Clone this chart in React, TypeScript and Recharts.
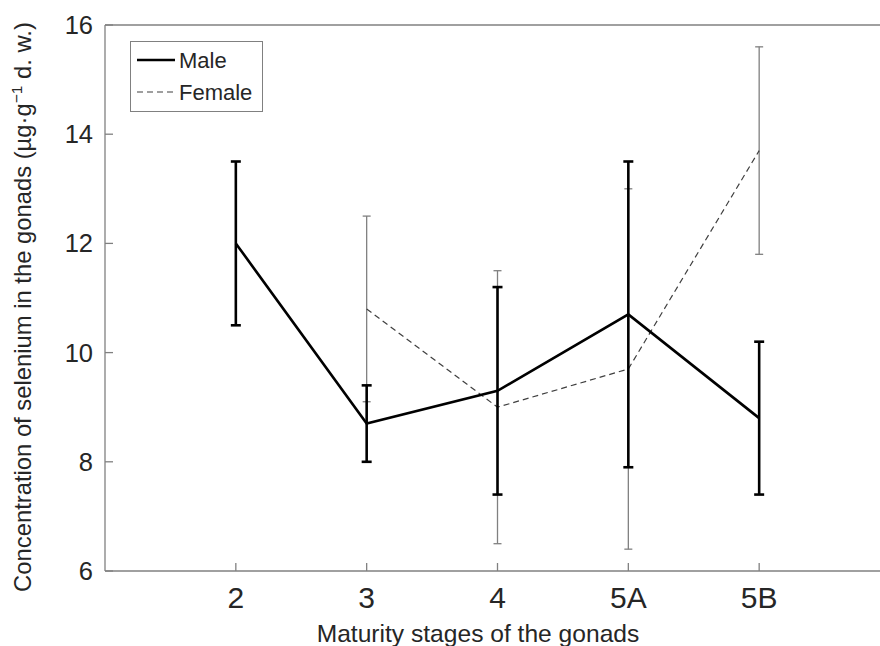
import {
  ComposedChart,
  Line,
  XAxis,
  YAxis,
  ErrorBar,
  Legend,
} from "recharts";

const stages = ["2", "3", "4", "5A", "5B"];
const stagePos = [2, 3, 4, 5, 6];

const maleMean = [12.0, 8.7, 9.3, 10.7, 8.8];
const maleLow = [10.5, 8.0, 7.4, 7.9, 7.4];
const maleHigh = [13.5, 9.4, 11.2, 13.5, 10.2];

// female has no stage 2 sample
const femalePos = [3, 4, 5, 6];
const femaleMean = [10.8, 9.0, 9.7, 13.7];
const femaleLow = [9.1, 6.5, 6.4, 11.8];
const femaleHigh = [12.5, 11.5, 13.0, 15.6];

const yTicks = [6, 8, 10, 12, 14, 16];

const FONT = '"Liberation Sans", Arial, sans-serif';
const AXIS = "#808080";
const INK = "#262626";

const maleData = stagePos.map((x, i) => ({
  x,
  v: maleMean[i],
  err: [maleMean[i] - maleLow[i], maleHigh[i] - maleMean[i]],
}));

const femaleData = femalePos.map((x, i) => ({
  x,
  v: femaleMean[i],
  err: [femaleMean[i] - femaleLow[i], femaleHigh[i] - femaleMean[i]],
}));

const stageLabel = (v: number) => {
  const i = stagePos.indexOf(v);
  return i >= 0 ? stages[i] : "";
};

function LegendBox() {
  return (
    <svg width={134} height={72} style={{ display: "block" }}>
      <rect x={0.5} y={0.5} width={132} height={70} fill="#fff" stroke={AXIS} strokeWidth={1} />
      <line x1={7} y1={19} x2={45} y2={19} stroke="#000" strokeWidth={2.5} />
      <text x={49} y={27} fontSize={22} fontFamily={FONT} fill={INK}>
        Male
      </text>
      <line x1={7} y1={51} x2={45} y2={51} stroke="#404040" strokeWidth={1.2} strokeDasharray="6 4" />
      <text x={49} y={59} fontSize={22} fontFamily={FONT} fill={INK}>
        Female
      </text>
    </svg>
  );
}

function YTitle() {
  return (
    <text
      transform="translate(31, 307) rotate(-90)"
      textAnchor="middle"
      fontSize={23.8}
      fontFamily={FONT}
      fill={INK}
    >
      <tspan>Concentration of selenium in the gonads (µg·g</tspan>
      <tspan dy={-9} fontSize={15.5}>−1</tspan>
      <tspan dy={9}> d. w.)</tspan>
    </text>
  );
}

function XTitle() {
  return (
    <text x={478} y={642} textAnchor="middle" fontSize={24.6} fontFamily={FONT} fill={INK}>
      Maturity stages of the gonads
    </text>
  );
}

export default function App() {
  return (
    <div style={{ position: "absolute", left: 0, top: 0, background: "#fff" }}>
      <ComposedChart
        width={880}
        height={646}
        margin={{ top: 24, right: -10, bottom: 45, left: 45 }}
      >
        <XAxis
          type="number"
          dataKey="x"
          domain={[1, 7]}
          ticks={stagePos}
          tickFormatter={stageLabel}
          allowDataOverflow
          height={30}
          stroke={AXIS}
          strokeWidth={1.3}
          tickSize={-8}
          tickMargin={24}
          tick={{ fill: INK, fontSize: 30, fontFamily: FONT }}
          label={{ content: () => <XTitle /> }}
        />
        <XAxis
          xAxisId="top"
          orientation="top"
          type="number"
          domain={[1, 7]}
          ticks={stagePos}
          allowDataOverflow
          height={1}
          stroke={AXIS}
          strokeWidth={1.3}
          tickSize={-8}
          tick={false}
        />
        <YAxis
          type="number"
          domain={[6, 16]}
          ticks={yTicks}
          allowDataOverflow
          width={60}
          stroke={AXIS}
          strokeWidth={1.3}
          tickSize={-8}
          tickMargin={20}
          tick={{ fill: INK, fontSize: 25.5, fontFamily: FONT }}
          label={{ content: () => <YTitle /> }}
        />
        <Legend
          layout="horizontal"
          verticalAlign="middle"
          align="center"
          content={() => <LegendBox />}
          wrapperStyle={{ position: "absolute", left: 130, top: 41, width: 134, height: 72 }}
        />
        <Line
          data={femaleData}
          dataKey="v"
          name="Female"
          stroke="#404040"
          strokeWidth={1.2}
          strokeDasharray="6 4"
          dot={false}
          activeDot={false}
          isAnimationActive={false}
        >
          <ErrorBar dataKey="err" width={4} stroke="#808080" strokeWidth={1.3} isAnimationActive={false} />
        </Line>
        <Line
          data={maleData}
          dataKey="v"
          name="Male"
          stroke="#000"
          strokeWidth={2.6}
          dot={false}
          activeDot={false}
          isAnimationActive={false}
        >
          <ErrorBar dataKey="err" width={5} stroke="#000" strokeWidth={2.6} isAnimationActive={false} />
        </Line>
      </ComposedChart>
    </div>
  );
}
